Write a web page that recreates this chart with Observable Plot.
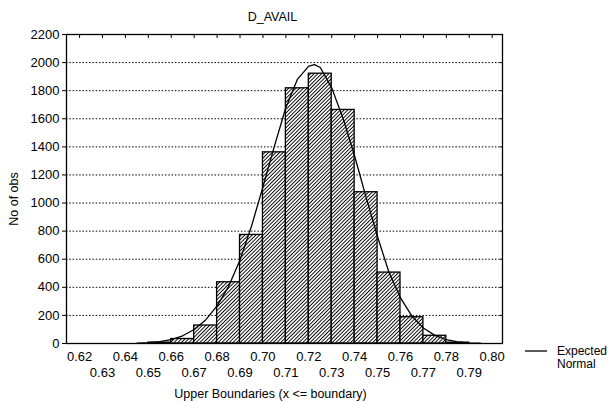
<!DOCTYPE html>
<html>
<head>
<meta charset="utf-8">
<script src="https://cdn.jsdelivr.net/npm/d3@7"></script>
<script src="https://cdn.jsdelivr.net/npm/@observablehq/plot@0.6"></script>
<style>
  html, body { margin: 0; padding: 0; background: #fff; }
  #chart { width: 610px; height: 402px; }
</style>
</head>
<body>
<div id="chart"></div>
<script>
// Histogram: upper bin boundaries and observed counts
const upperBounds = [0.66, 0.67, 0.68, 0.69, 0.70, 0.71, 0.72, 0.73, 0.74, 0.75, 0.76, 0.77, 0.78, 0.79];
const counts      = [6,    32,   128,  436,  773,  1361, 1817, 1921, 1663, 1077, 505,  187,  55,   6];

// Expected normal curve
const curveX = [0.645, 0.650, 0.655, 0.660, 0.665, 0.670, 0.675, 0.680, 0.685, 0.690, 0.695, 0.700, 0.705, 0.710, 0.715, 0.720, 0.7225, 0.725, 0.730, 0.735, 0.740, 0.745, 0.750, 0.755, 0.760, 0.765, 0.770, 0.775, 0.780, 0.785, 0.790, 0.795];
const curveY = [2,     6,     14,    28,    55,    100,   168,   268,   405,   595,   835,   1115,  1405,  1680,  1880,  1975,  1985,   1965,  1820,  1600,  1335,  1040,  760,   505,   325,   195,   110,   58,    27,    12,    5,     2];

const xTicks = [0.62, 0.63, 0.64, 0.65, 0.66, 0.67, 0.68, 0.69, 0.70, 0.71, 0.72, 0.73, 0.74, 0.75, 0.76, 0.77, 0.78, 0.79, 0.80];
const yTicks = [0, 200, 400, 600, 800, 1000, 1200, 1400, 1600, 1800, 2000, 2200];
const gridTicks = [200, 400, 600, 800, 1000, 1200, 1400, 1600, 1800, 2000];

const bins = upperBounds.map((u, i) => ({lo: u - 0.01, hi: u, n: counts[i]}));
const curve = curveX.map((x, i) => ({x, y: curveY[i]}));
const fmt = d3.format(".2f");
const evenTicks = xTicks.filter((d, i) => i % 2 === 0);
const oddTicks = xTicks.filter((d, i) => i % 2 === 1);

const font = "'Liberation Sans', Arial, Helvetica, sans-serif";

const svg = Plot.plot({
  width: 610,
  height: 402,
  marginLeft: 66,
  marginRight: 108,
  marginTop: 34,
  marginBottom: 59,
  style: {background: "#fff", color: "#000", fontFamily: font},
  x: {domain: [0.6143, 0.8045], axis: null},
  y: {domain: [0, 2200], axis: null},
  marks: [
    Plot.ruleY(gridTicks, {y: d => d, stroke: "#000", strokeWidth: 1, strokeDasharray: "1.5,1.8"}),
    Plot.rectY(bins, {x1: d => d.lo, x2: d => d.hi, y: d => d.n, fill: "url(#hatch)", stroke: "#000", strokeWidth: 1.3}),
    Plot.line(curve, {x: d => d.x, y: d => d.y, stroke: "#000", strokeWidth: 1.3}),
    Plot.frame({stroke: "#000", strokeWidth: 1.3}),
    Plot.axisY(yTicks, {anchor: "left", tickSize: 4, tickPadding: 3, fontSize: 13, tickFormat: d => String(d), label: null}),
    Plot.axisY(gridTicks, {anchor: "right", tickSize: -3, tickFormat: () => "", label: null}),
    Plot.axisX(xTicks, {anchor: "top", tickSize: -3, tickFormat: () => "", label: null}),
    Plot.text(evenTicks, {x: d => d, text: d => fmt(d), frameAnchor: "bottom", dy: 13, lineAnchor: "middle", fontSize: 13}),
    Plot.text(oddTicks, {x: d => d, text: d => fmt(d), frameAnchor: "bottom", dy: 29.5, lineAnchor: "middle", fontSize: 13}),
    Plot.text(["D_AVAIL"], {text: d => d, frameAnchor: "top", dx: -12, dy: -18, lineAnchor: "middle", fontSize: 12.5}),
    Plot.text(["Upper Boundaries (x <= boundary)"], {text: d => d, frameAnchor: "bottom", dx: -14, dy: 50.5, lineAnchor: "middle", fontSize: 12.5}),
    Plot.text(["No of obs"], {text: d => d, frameAnchor: "left", textAnchor: "middle", dx: -53, dy: 10, rotate: -90, lineAnchor: "middle", fontSize: 12.5})
  ]
});

const s = d3.select(svg);
s.insert("defs", ":first-child").html(
  '<pattern id="hatch" width="2.6" height="2.6" patternUnits="userSpaceOnUse" patternTransform="rotate(45)">' +
  '<rect width="2.6" height="2.6" fill="#fff"/>' +
  '<line x1="1.3" y1="0" x2="1.3" y2="2.6" stroke="#000" stroke-width="0.95"/>' +
  '</pattern>'
);

// Legend
const lg = s.append("g").attr("font-family", font).attr("font-size", 12).attr("fill", "#000").attr("text-anchor", "start");
lg.append("line").attr("x1", 525).attr("x2", 547).attr("y1", 351).attr("y2", 351).attr("stroke", "#000").attr("stroke-width", 1.3);
lg.append("text").attr("x", 557).attr("y", 351).attr("dy", "0.35em").text("Expected");
lg.append("text").attr("x", 557).attr("y", 364).attr("dy", "0.35em").text("Normal");

document.getElementById("chart").appendChild(svg);
</script>
</body>
</html>
